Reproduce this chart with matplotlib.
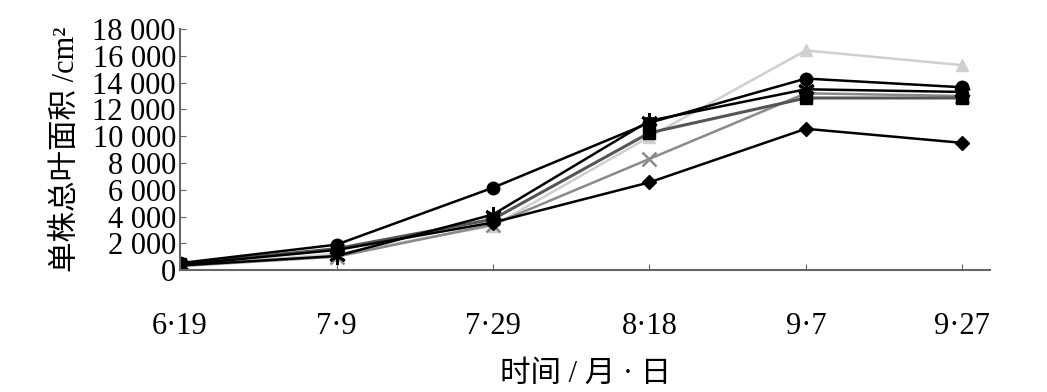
import matplotlib
matplotlib.use("Agg")
import matplotlib.pyplot as plt

# dates (month·day) and leaf area per plant, cm2
dates = ["6·19", "7·9", "7·29", "8·18", "9·7", "9·27"]
s_circle = [520, 1900, 6150, 11000, 14300, 13650]
s_diamond = [400, 1500, 3550, 6550, 10550, 9500]
s_triangle = [300, 1200, 3300, 9950, 16400, 15300]
s_cross = [300, 1000, 3400, 8300, 13200, 13000]
s_star = [350, 1050, 4150, 11150, 13500, 13300]
s_square = [450, 1600, 3800, 10250, 12850, 12850]

plt.rcParams["font.family"] = ["Liberation Serif", "Noto Sans CJK SC"]

fig = plt.figure(figsize=(10.47, 3.92), dpi=100)
ax = fig.add_axes([0.172, 0.311, 0.774, 0.615])

x = list(range(len(dates)))
ax.plot(x, s_triangle, color="#cfcfcf", lw=1.8, marker="^", ms=9, mfc="#cfcfcf", mec="#cfcfcf")
ax.plot(x, s_cross, color="#8a8a8a", lw=1.8, marker="x", ms=10, mew=1.8)
ax.plot(x, s_square, color="#555555", lw=2.2, marker="s", ms=8, mfc="black", mec="black")
ax.plot(x, s_star, color="black", lw=1.8, marker=(6, 2, 0), ms=12, mew=2)
ax.plot(x, s_diamond, color="black", lw=1.8, marker="D", ms=7)
ax.plot(x, s_circle, color="black", lw=1.8, marker="o", ms=9)

ax.set_xlim(0, 5.18)
ax.set_ylim(0, 18000)
ax.set_xticks(x)
ax.set_xticklabels(dates)
yt = list(range(0, 18001, 2000))
ax.set_yticks(yt)
ax.set_yticklabels([f"{v:,}".replace(",", " ") for v in yt])

for s in ["top", "right"]:
    ax.spines[s].set_visible(False)
for s in ["left", "bottom"]:
    ax.spines[s].set_color("#666666")
    ax.spines[s].set_linewidth(1.5)
ax.tick_params(axis="y", direction="in", length=4, color="#666666", labelsize=22, pad=3)
ax.tick_params(axis="x", direction="in", length=4, color="#666666", labelsize=22, pad=30)

ax.set_ylabel("单株总叶面积 /cm²", fontsize=22, labelpad=8)
ax.set_xlabel("时间 / 月 · 日", fontsize=22, labelpad=14)

fig.savefig("out.png", dpi=100, facecolor="white")
